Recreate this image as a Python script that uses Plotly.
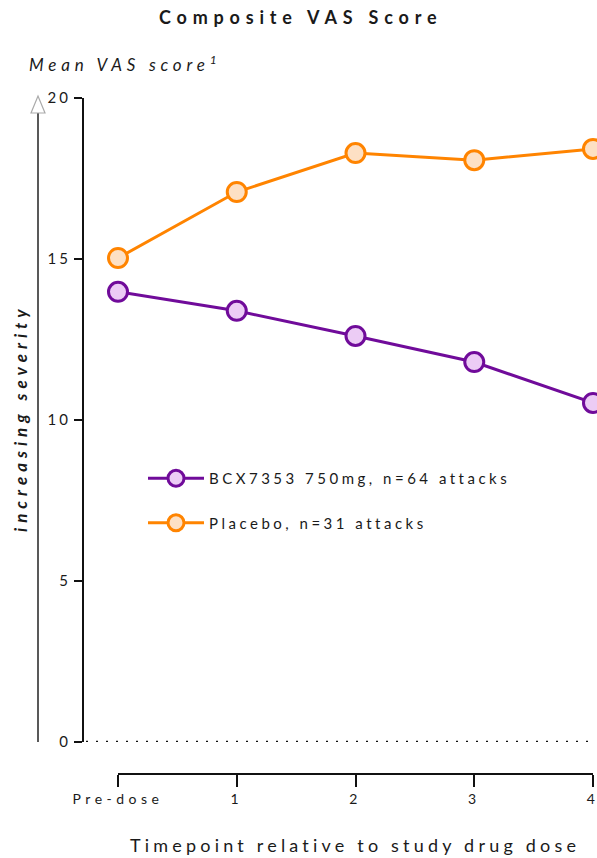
import plotly.graph_objects as go

# ---- data ----
timepoints = ["Pre-dose", "1", "2", "3", "4"]
x_idx = [0, 1, 2, 3, 4]
bcx_values = [13.98, 13.39, 12.61, 11.80, 10.53]
placebo_values = [15.03, 17.08, 18.29, 18.07, 18.42]
series_names = ["BCX7353 750mg, n=64 attacks", "Placebo, n=31 attacks"]
y_ticks = [0, 5, 10, 15, 20]

W, H = 597, 858
FONT = "Lato"
TXT = "#1a1a1a"


def px(x):
    return x / W


def py(y):
    return 1 - y / H


def sp(text, ls):
    return f'<span style="letter-spacing:{ls}px">{text}</span>'


PURPLE = "#700b9a"
PURPLE_FILL = "#ecccf5"
ORANGE = "#ff8400"
ORANGE_FILL = "#fde0c4"

fig = go.Figure()
fig.add_trace(go.Scatter(
    x=x_idx, y=bcx_values, mode="lines+markers", name=sp(series_names[0], 3.5),
    legendgroup="a", cliponaxis=False,
    line=dict(color=PURPLE, width=3),
    marker=dict(size=19, color=PURPLE_FILL, line=dict(color=PURPLE, width=3)),
))
fig.add_trace(go.Scatter(
    x=x_idx, y=placebo_values, mode="lines+markers", name=sp(series_names[1], 3.5),
    legendgroup="b", cliponaxis=False,
    line=dict(color=ORANGE, width=3),
    marker=dict(size=19, color=ORANGE_FILL, line=dict(color=ORANGE, width=3)),
))

fig.update_layout(
    width=W, height=H,
    margin=dict(l=0, r=0, t=0, b=0, autoexpand=False),
    paper_bgcolor="white", plot_bgcolor="white",
    font=dict(family=FONT, color=TXT),
    showlegend=True,
    legend=dict(
        x=px(143), y=py(462), xanchor="left", yanchor="top",
        font=dict(size=15, color=TXT), itemwidth=56,
        tracegroupgap=22, traceorder="grouped", bgcolor="rgba(0,0,0,0)",
    ),
    xaxis=dict(
        domain=[px(118), px(593)], range=[0, 4], anchor="free", position=py(774),
        tickvals=x_idx, ticktext=[sp(t, 4.5) for t in timepoints],
        showline=True, linecolor="#111", linewidth=2, automargin=False,
        ticks="outside", ticklen=12, tickwidth=2, tickcolor="#111",
        ticklabeloverflow="allow",
        tickfont=dict(size=14, color=TXT), showgrid=False, zeroline=False,
    ),
    yaxis=dict(
        domain=[py(742), py(98)], range=[0, 20], anchor="free", position=px(83),
        tickvals=y_ticks, ticktext=[sp(str(v), 3) for v in y_ticks],
        showline=True, linecolor="#111", linewidth=2, automargin=False,
        ticks="outside", ticklen=8, tickwidth=2, tickcolor="#111",
        ticklabeloverflow="allow",
        tickfont=dict(size=15, color=TXT), showgrid=False, zeroline=False,
    ),
)

# dotted baseline at y=0
fig.add_shape(type="line", xref="paper", yref="y", x0=px(86), x1=px(592), y0=0, y1=0,
              line=dict(color="#111", width=2.5, dash="2px,8px"))

# left severity arrow
fig.add_shape(type="line", xref="paper", yref="paper", x0=px(38), x1=px(38),
              y0=py(742), y1=py(112), line=dict(color="#222", width=1.5))
fig.add_shape(type="path", xref="paper", yref="paper",
              path=f"M {px(31)} {py(113)} L {px(38)} {py(96)} L {px(45)} {py(113)} Z",
              line=dict(color="#aaaaaa", width=1.2), fillcolor="white")

annotations = [
    dict(text=sp("<b>Composite VAS Score</b>", 5.8), x=px(300), y=py(17),
         font=dict(size=18, color=TXT)),
    dict(text=sp("<i>Mean VAS score<sup>1</sup></i>", 4.8), x=px(27), y=py(63),
         xanchor="left", font=dict(size=17, color=TXT)),
    dict(text=sp("<b><i>increasing severity</i></b>", 5), x=px(20), y=py(418),
         textangle=-90, font=dict(size=17, color=TXT)),
    dict(text=sp("Timepoint relative to study drug dose", 4.2), x=px(355), y=py(845),
         font=dict(size=18, color=TXT)),
]
for a in annotations:
    a.setdefault("xanchor", "center")
    a.update(xref="paper", yref="paper", showarrow=False, yanchor="middle")
    fig.add_annotation(**a)

fig.write_html(
    "out.html",
    config={"displayModeBar": False},
    post_script="document.body.style.margin='0';document.body.style.overflow='hidden';",
)
